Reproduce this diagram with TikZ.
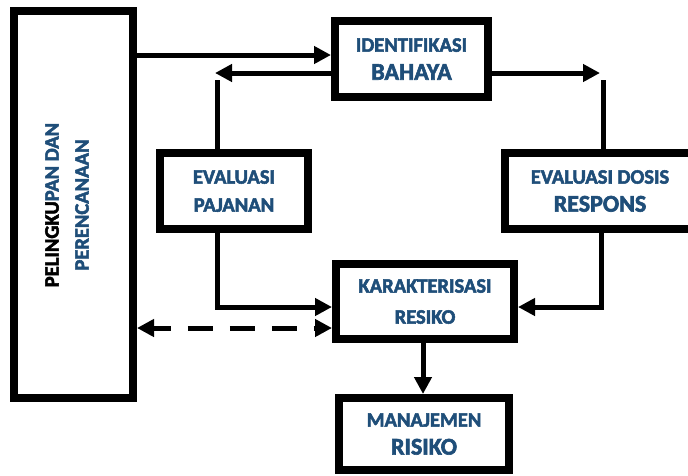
\documentclass[tikz,border=0pt]{standalone}
\usepackage{fontspec}
\setmainfont{Carlito}[BoldFeatures={FakeBold=2.5}]
\usetikzlibrary{arrows.meta}
\definecolor{boxblue}{HTML}{1F4E79}

\begin{document}
\begin{tikzpicture}[x=1pt,y=-1pt,
    box/.style={draw, line width=8pt, outer sep=4pt, inner sep=0pt, align=center,
      text=boxblue, font=\bfseries\fontsize{20.5}{28}\selectfont},
    conn/.style={line width=5pt},
    arr/.style={conn, -{Triangle[length=17pt,width=17pt]}}]
    \def \bigline {\fontsize{24}{28}\selectfont} % larger second lines
    \useasboundingbox (0,0) rectangle (688,475);
    % boxes
    \node[box, minimum width=119, minimum height=387] (plan) at (73.5,204.5) {};
    \node[rotate=90, align=center, text=boxblue,
      font=\bfseries\fontsize{20.5}{30}\selectfont] (planlabel) at (67,205)
      {{\color{black}PELINGKU}PAN DAN\\PERENCANAAN};
    \node[box, minimum width=153, minimum height=76] (ident) at (411.5,59)
      {IDENTIFIKASI\\{\bigline BAHAYA}};
    \node[box, minimum width=148, minimum height=76] (paj) at (234,191)
      {EVALUASI\\PAJANAN};
    \node[box, minimum width=190, minimum height=76] (dosis) at (600,191)
      {EVALUASI DOSIS\\{\bigline RESPONS}};
    \node[box, minimum width=178, minimum height=75,
      font=\bfseries\fontsize{20.5}{31}\selectfont] (kar) at (425,301.5)
      {KARAKTERISASI\\RESIKO};
    \node[box, minimum width=170, minimum height=72] (man) at (424,434)
      {MANAJEMEN\\{\bigline RISIKO}};
    % free ends of the split connectors
    \coordinate (pajTip) at (215,73);
    \coordinate (pajTop) at (217,80);
    \coordinate (dosTip) at (600,73);
    \coordinate (dosTop) at (603,80);
    % connectors
    \draw[arr] (plan.east |- 0,55) -- (ident.west |- 0,55);
    \draw[arr] (ident.west |- 0,73) -- (pajTip);
    \draw[conn] (pajTop) -- (pajTop |- paj.north);
    \draw[arr] (ident.east |- 0,73) -- (dosTip);
    \draw[conn] (dosTop) -- (dosTop |- dosis.north);
    \draw[arr] (paj.south -| 217,0) |- (kar.west |- 0,307);
    \draw[arr] (dosis.south -| 601,0) |- (kar.east |- 0,307);
    \draw[conn, dash pattern=on 25pt off 17pt, dash phase=7pt,
      {Triangle[length=17pt,width=17pt]}-{Triangle[length=17pt,width=17pt]}]
      (plan.east |- 0,328) -- (kar.west |- 0,328);
    \draw[arr] (kar.south -| 423,0) -- (man.north -| 423,0);
\end{tikzpicture}
\end{document}
